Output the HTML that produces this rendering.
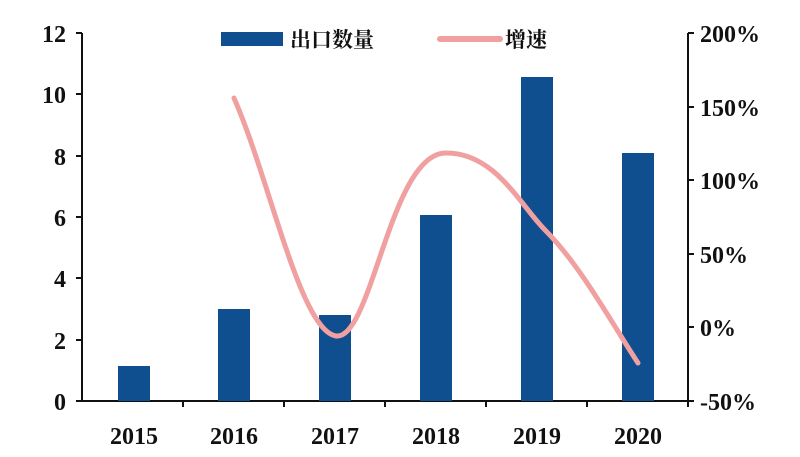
<!DOCTYPE html>
<html><head><meta charset="utf-8"><style>
body{margin:0;background:#fff}
text{font-family:"Liberation Serif","Noto Serif CJK SC",serif;font-weight:bold;fill:#111}
</style></head><body>
<svg width="800" height="452" viewBox="0 0 800 452">
<g stroke="#111" stroke-width="2" fill="none">
<line x1="82" y1="33" x2="82" y2="401"/>
<line x1="82" y1="401" x2="688" y2="401"/>
<line x1="688" y1="33" x2="688" y2="401"/>
<path d="M76 33H82M76 94H82M76 156H82M76 217H82M76 278H82M76 340H82M76 401H82"/>
<path d="M688 33H694M688 107H694M688 180H694M688 254H694M688 327H694M688 401H694"/>
<path d="M183 401V407M284 401V407M385 401V407M486 401V407M587 401V407M688 401V407"/>
</g>
<g font-size="24" text-anchor="end">
<text x="66" y="42">12</text><text x="66" y="103">10</text><text x="66" y="165">8</text>
<text x="66" y="226">6</text><text x="66" y="287">4</text><text x="66" y="349">2</text><text x="66" y="410">0</text>
</g>
<g font-size="24" text-anchor="start">
<text x="700" y="42">200%</text><text x="700" y="116">150%</text><text x="700" y="189">100%</text>
<text x="700" y="263">50%</text><text x="700" y="336">0%</text><text x="700" y="410">-50%</text>
</g>
<g font-size="24" text-anchor="middle">
<text x="134" y="444">2015</text><text x="234" y="444">2016</text><text x="335" y="444">2017</text>
<text x="436" y="444">2018</text><text x="537" y="444">2019</text><text x="638" y="444">2020</text>
</g>
<g fill="#0f4e8f">
<rect x="118" y="366" width="32" height="35"/>
<rect x="218" y="309" width="32" height="92"/>
<rect x="319" y="315" width="32" height="86"/>
<rect x="420" y="215" width="32" height="186"/>
<rect x="521" y="77" width="32" height="324"/>
<rect x="622" y="153" width="32" height="248"/>
</g>
<path d="M234 98 C270 180,300 330,336 336 C372 340,390 155,445 153 C495 152,520 205,545 230 C580 265,610 320,638 363" stroke="#f0a0a0" stroke-width="5" fill="none" stroke-linecap="round"/>
<rect x="221" y="32" width="62" height="14" fill="#0f4e8f"/>
<text x="290" y="47" font-size="21">出口数量</text>
<line x1="440" y1="39" x2="500" y2="39" stroke="#f0a0a0" stroke-width="6" stroke-linecap="round"/>
<text x="505" y="47" font-size="21">增速</text>
</svg>
</body></html>
